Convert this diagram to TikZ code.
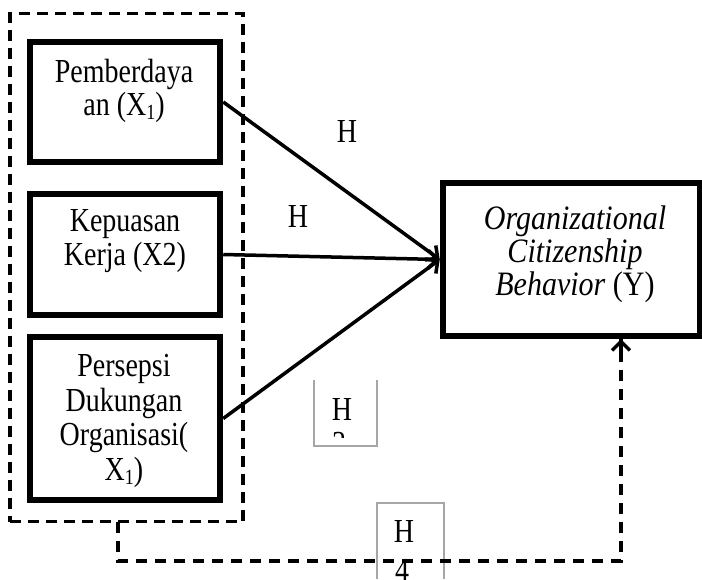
\documentclass[tikz,border=0pt]{standalone}
\usepackage{fontspec}
\setmainfont{Liberation Serif}
\usetikzlibrary{arrows.meta}
\newcommand\lowone{\raisebox{-3pt}{\fontsize{18}{18}\selectfont 1}}
\begin{document}
\begin{tikzpicture}[x=1pt,y=-1pt,
  varbox/.style={draw,line width=6.5pt,rectangle,inner sep=0pt},
  txt/.style={font=\fontsize{28}{28}\selectfont,align=center,yscale=1.2,transform shape,inner sep=0pt},
  grpbox/.style={draw,line width=3.5pt,dash pattern=on 11pt off 7pt,rectangle,inner sep=0pt},
  fb/.style={line width=3.5pt,dash pattern=on 11pt off 8pt},
  arr/.style={line width=3.5pt,-{Straight Barb[length=9pt,width=18pt,line width=3.5pt]}},
  thin/.style={draw=gray!70,line width=1.2pt}]
\useasboundingbox (0,0) rectangle (702,579);
% group
\node[grpbox,minimum width=233pt,minimum height=508pt] (grp) at (126.5,267.5) {};
% variable boxes
\node[varbox,minimum width=190pt,minimum height=120pt] (b1) at (125,102) {};
\node[varbox,minimum width=190pt,minimum height=121pt] (b2) at (125,254.5) {};
\node[varbox,minimum width=190pt,minimum height=163pt] (b3) at (125,418.5) {};
\node[varbox,minimum width=257pt,minimum height=153pt] (y) at (571.5,259.5) {};
% texts
\node[txt] (t1) at (124,91) {Pemberdaya\\an (X\lowone)};
\node[txt] (t2) at (125,241) {Kepuasan\\Kerja (X2)};
\node[txt,font=\fontsize{28}{29}\selectfont] (t3) at (124,421) {Persepsi\\Dukungan\\Organisasi(\\X\lowone)};
\node[txt,font=\fontsize{30}{29}\selectfont,yscale=0.95] (ty) at (575,254) {\textit{Organizational}\\\textit{Citizenship}\\\textit{Behavior} (Y)};
% hypothesis labels
\node[txt] (h1) at (347,131) {H};
\node[txt] (h2) at (298,216) {H};
% small boxes
\draw[thin] (314,380) -- (314,446) -- (377,446) -- (377,380);
\node[txt] (h3) at (342,409) {H};
\begin{scope}
\clip (315,428) rectangle (376,437);
\node[txt] (h3n) at (339,444) {3};
\end{scope}
\draw[thin] (377,579) -- (377,503) -- (444,503) -- (444,579);
\node[txt] (h4) at (404,531) {H};
\begin{scope}
\clip (378,552) rectangle (443,579);
\node[txt] (h4n) at (402,570) {4};
\end{scope}
% arrows
\coordinate (tgt) at (y.west);
\draw[arr] (b1.east) -- (tgt);
\draw[arr] (b2.east) -- (tgt);
\draw[arr] (b3.east) -- (tgt);
% feedback dashed path
\coordinate (fs) at (118,522);
\coordinate (fe) at (621,339);
\draw[fb] (fs) -- (fs |- 0,561) -- (fe |- 0,561) -- (fe);
\draw[line width=3.5pt,{Straight Barb[length=9pt,width=18pt,line width=3.5pt]}-] (fe) -- ++(0,12);
\end{tikzpicture}
\end{document}
